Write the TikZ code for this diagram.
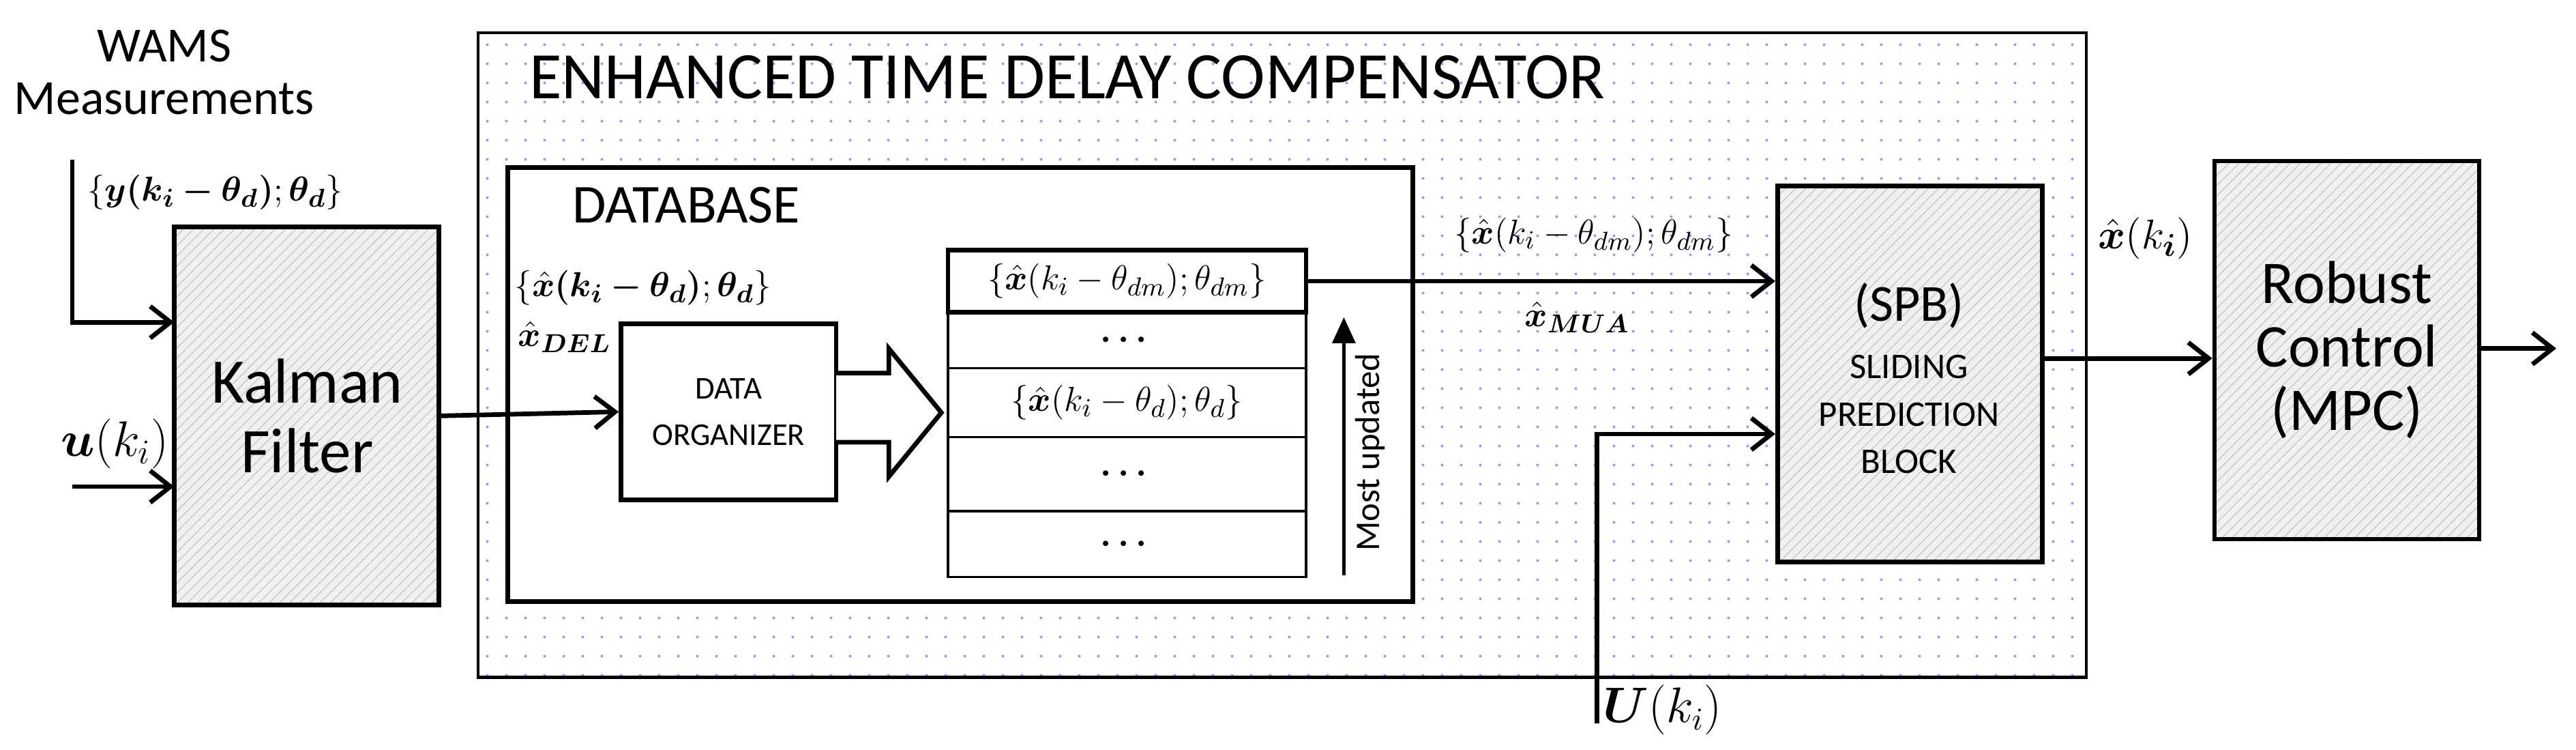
\documentclass[tikz,border=0pt]{standalone}
\usepackage{fontspec}
\setmainfont{Carlito}
\usepackage{amsmath,bm}
\usetikzlibrary{patterns.meta,arrows.meta,shapes.arrows}
\begin{document}
\begin{tikzpicture}[x=0.02cm,y=-0.02cm,
  blk/.style={draw,line width=1.6pt},
  hatch/.style={blk,preaction={fill=gray!12},pattern={Lines[angle=45,distance=2.5pt,line width=0.3pt]},pattern color=gray!45},
  arr/.style={line width=1.6pt,-{Straight Barb[length=7pt,width=11pt]}},
  lbl/.style={inner sep=0pt,font=\fontsize{13}{15}\selectfont},
  row/.style={draw,line width=0.8pt}]
\useasboundingbox (0,0) rectangle (1568,456);
% compensator
\draw[line width=1pt,pattern={Dots[distance=6.5pt,radius=0.5pt]},pattern color=blue!40] (291,20) rectangle (1270,412);
\node[anchor=west,inner sep=0pt,font=\fontsize{23}{26}\selectfont] (title) at (322,47) {ENHANCED TIME DELAY COMPENSATOR};
% Kalman
\draw[hatch] (106,138) rectangle (267,368);
\node[align=center,font=\fontsize{22}{24}\selectfont] (kal) at (187,253) {Kalman\\Filter};
\node[align=center,font=\fontsize{17}{18}\selectfont] (wams) at (100,44) {WAMS\\Measurements};
\coordinate (ys) at (44,97); \coordinate (yc) at (44,196); \coordinate (ye) at (106,196);
\draw[arr] (ys) -- (yc) -- (ye);
\node[lbl,anchor=west] (ylbl) at (53,117) {$\{\bm{y(k_i-\theta_d)};\bm{\theta_d}\}$};
\coordinate (us) at (44,296); \coordinate (ue) at (106,296);
\draw[arr] (us) -- (ue);
\node[lbl,font=\fontsize{17}{20}\selectfont] (ulbl) at (70,270) {$\bm{u}(k_i)$};
% database
\draw[blk,fill=white] (309,102) rectangle (860,366);
\node[anchor=west,inner sep=0pt,font=\fontsize{19}{22}\selectfont] (dbt) at (348,125) {DATABASE};
\node[lbl,anchor=west] (xdel1) at (313,175) {$\{\bm{\hat{x}(k_i-\theta_d)};\bm{\theta_d}\}$};
\node[lbl,anchor=west] (xdel2) at (315,205) {$\bm{\hat{x}_{DEL}}$};
\node[blk,minimum width=131*0.02cm,minimum height=107*0.02cm,align=center,font=\fontsize{11}{16}\selectfont] (org) at (443.5,250.5) {DATA\\ORGANIZER};
\draw[arr] (267,253) -- (org.west);
% hollow arrow
\draw[blk,fill=white,line join=miter] (509,227) -- (541,227) -- (541,212) -- (573,251) -- (541,290) -- (541,269) -- (509,269);
% table
\node[row,minimum width=218*0.02cm,minimum height=34*0.02cm,lbl] (r2) at (686,207) {$\bm{\cdots}$};
\node[row,minimum width=218*0.02cm,minimum height=42*0.02cm,lbl] (r3) at (686,245) {$\{\bm{\hat{x}}(k_i-\theta_d);\theta_d\}$};
\node[row,minimum width=218*0.02cm,minimum height=45*0.02cm,lbl] (r4) at (686,288.5) {$\bm{\cdots}$};
\node[row,minimum width=218*0.02cm,minimum height=40*0.02cm,lbl] (r5) at (686,331) {$\bm{\cdots}$};
\node[blk,fill=white,minimum width=218*0.02cm,minimum height=38*0.02cm,lbl] (r1) at (686,171) {$\{\bm{\hat{x}}(k_i-\theta_{dm});\theta_{dm}\}$};
\coordinate (mb) at (818,350); \coordinate (mt) at (818,193);
\draw[line width=1pt,-{Triangle[length=9pt,width=8pt]}] (mb) -- (mt);
\node[rotate=90,font=\fontsize{12}{14}\selectfont] (mu) at (834,275) {Most updated};
% SPB
\node[hatch,minimum width=161*0.02cm,minimum height=229*0.02cm] (spb) at (1162.5,227.5) {};
\node[font=\fontsize{18}{20}\selectfont] (spbt) at (1162,186) {(SPB)};
\node[align=center,font=\fontsize{12.5}{16.5}\selectfont] (spbd) at (1162,252) {SLIDING\\PREDICTION\\BLOCK};
\draw[arr] (r1.east) -- (r1.east -| spb.west);
\node[lbl] (mua1) at (970,143) {$\{\bm{\hat{x}}(k_i-\theta_{dm});\theta_{dm}\}$};
\node[lbl] (mua2) at (960,193) {$\bm{\hat{x}_{MUA}}$};
\coordinate (Us) at (972,440); \coordinate (Uc) at (972,264);
\draw[arr] (Us) -- (Uc) -- (Uc -| spb.west);
\node[lbl,font=\fontsize{16}{20}\selectfont] (Ul) at (1012,432) {$\bm{U}(k_i)$};
% Robust
\node[hatch,minimum width=161*0.02cm,minimum height=230*0.02cm,align=center,font=\fontsize{21}{22}\selectfont] (mpc) at (1428.5,213) {Robust\\Control\\(MPC)};
\draw[arr] (spb.east |- 0,218) -- (mpc.west |- 0,218);
\node[lbl,font=\fontsize{15}{18}\selectfont] (xk) at (1306,145) {$\bm{\hat{x}}(k_{\bm{i}})$};
\coordinate (oe) at (1556,212);
\draw[arr] (mpc.east |- oe) -- (oe);
\end{tikzpicture}
\end{document}
